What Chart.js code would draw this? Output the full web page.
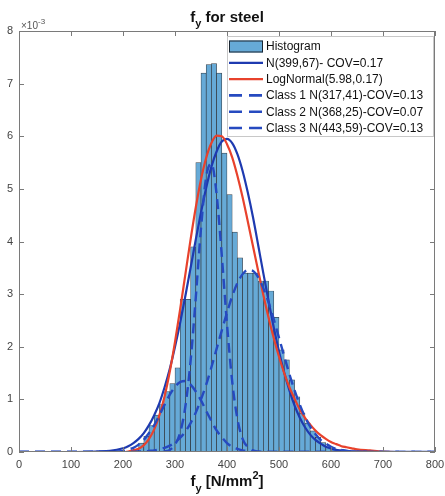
<!DOCTYPE html>
<html>
<head>
<meta charset="utf-8">
<script src="https://cdn.jsdelivr.net/npm/chart.js@4.4.1/dist/chart.umd.min.js"></script>
<style>
  html, body { margin: 0; padding: 0; background: #fff; overflow: hidden; }
  #wrap { width: 445px; height: 496px; }
  canvas { display: block; }
</style>
</head>
<body>
<div id="wrap"><canvas id="plot"></canvas></div>
<script>
// Histograma (centro de cada clase, densidad en 1e-3)
let binCenters = [225, 235, 245, 255, 265, 275, 285, 295, 305, 315, 325, 335, 345, 355, 365, 375, 385, 395,
  405, 415, 425, 435, 445, 455, 465, 475, 485, 495, 505, 515, 525, 535, 545, 555, 565, 575, 585, 595, 605];
let histDensity = [0.05, 0.17, 0.3, 0.5, 0.7, 0.9, 1.15, 1.3, 1.6, 2.9, 2.9, 3.9, 5.5, 7.2, 7.36, 7.38, 7.2, 5.68,
  4.89, 4.18, 3.69, 3.4, 3.4, 3.4, 3.25, 3.25, 3.06, 2.56, 1.94, 1.75, 1.37, 1.05, 0.74, 0.55, 0.4, 0.28, 0.18, 0.1, 0.05];

// Curvas
let curveX = [0, 50, 100, 150, 175,
  200, 210, 220, 230, 240, 250, 260, 270, 280, 290,
  300, 310, 320, 330, 340, 350, 360, 370, 380, 390,
  400, 410, 420, 430, 440, 450, 460, 470, 480, 490,
  500, 510, 520, 530, 540, 550, 560, 570, 580, 590,
  600, 610, 620, 630, 640, 650, 675, 700, 750, 800];
let normalFit = [0, 0, 0, 0.01, 0.02,
  0.07, 0.11, 0.17, 0.25, 0.36, 0.51, 0.70, 0.93, 1.23, 1.58,
  2.00, 2.46, 2.97, 3.50, 4.04, 4.55, 5.02, 5.42, 5.71, 5.90,
  5.95, 5.87, 5.66, 5.34, 4.93, 4.46, 3.93, 3.39, 2.87, 2.36,
  1.91, 1.51, 1.17, 0.88, 0.65, 0.47, 0.33, 0.23, 0.16, 0.10,
  0.07, 0.04, 0.03, 0.02, 0.01, 0.01, 0, 0, 0, 0];
let logNormalFit = [0, 0, 0, 0, 0,
  0.00, 0.01, 0.03, 0.06, 0.13, 0.25, 0.43, 0.70, 1.06, 1.53,
  2.09, 2.72, 3.38, 4.04, 4.65, 5.18, 5.59, 5.87, 6.01, 6.00,
  5.85, 5.60, 5.25, 4.84, 4.38, 3.91, 3.44, 2.98, 2.55, 2.16,
  1.81, 1.50, 1.23, 1.01, 0.81, 0.65, 0.52, 0.41, 0.32, 0.25,
  0.19, 0.15, 0.11, 0.09, 0.07, 0.05, 0.03, 0.01, 0, 0];
let class1 = [0, 0, 0, 0, 0,
  0.02, 0.05, 0.08, 0.14, 0.23, 0.36, 0.51, 0.70, 0.90, 1.09,
  1.24, 1.33, 1.35, 1.28, 1.15, 0.98, 0.78, 0.59, 0.41, 0.28,
  0.17, 0.10, 0.06, 0.03, 0.02, 0.01, 0, 0, 0, 0,
  0, 0, 0, 0, 0, 0, 0, 0, 0, 0,
  0, 0, 0, 0, 0, 0, 0, 0, 0, 0];
let class2 = [0, 0, 0, 0, 0,
  0, 0, 0, 0, 0, 0, 0, 0, 0.01, 0.04,
  0.14, 0.37, 0.87, 1.73, 2.94, 4.25, 5.23, 5.48, 4.90, 3.73,
  2.43, 1.34, 0.63, 0.25, 0.09, 0.03, 0.01, 0, 0, 0,
  0, 0, 0, 0, 0, 0, 0, 0, 0, 0,
  0, 0, 0, 0, 0, 0, 0, 0, 0, 0];
let class3 = [0, 0, 0, 0, 0,
  0, 0, 0, 0.01, 0.01, 0.02, 0.03, 0.05, 0.08, 0.12,
  0.18, 0.27, 0.39, 0.55, 0.75, 1.00, 1.28, 1.61, 1.96, 2.31,
  2.65, 2.96, 3.21, 3.38, 3.46, 3.44, 3.32, 3.11, 2.84, 2.52,
  2.17, 1.82, 1.48, 1.17, 0.90, 0.67, 0.48, 0.34, 0.23, 0.16,
  0.10, 0.06, 0.04, 0.02, 0.01, 0.01, 0, 0, 0, 0];

let xTicks = [0, 100, 200, 300, 400, 500, 600, 700, 800];
let yTicks = [0, 1, 2, 3, 4, 5, 6, 7, 8];
let legendLabels = ['Histogram', 'N(399,67)- COV=0.17', 'LogNormal(5.98,0.17)',
  'Class 1 N(317,41)-COV=0.13', 'Class 2 N(368,25)-COV=0.07', 'Class 3 N(443,59)-COV=0.13'];

let histFill = 'rgb(102,170,215)';
let blueSolid = 'rgb(30,58,176)';
let redSolid = 'rgb(232,66,44)';
let blueDash = 'rgb(38,74,192)';
let dashPattern = [10, 6];

let toPoints = (xs, ys) => xs.map((x, i) => ({x: x, y: ys[i]}));

let lineSet = (label, ys, color, dashed, order) => ({
  type: 'line',
  label: label,
  data: toPoints(curveX, ys),
  borderColor: color,
  borderWidth: dashed ? 2.4 : 2.2,
  borderDash: dashed ? dashPattern : [],
  pointRadius: 0,
  cubicInterpolationMode: 'monotone',
  fill: false,
  order: order
});

// Texto con subindices / superindices
let drawRich = (ctx, parts, cx, baseline) => {
  let total = 0;
  parts.forEach(p => {
    ctx.font = 'bold ' + p.size + 'px "Liberation Sans", Arial, sans-serif';
    p.w = ctx.measureText(p.t).width;
    total += p.w;
  });
  let x = cx - total / 2;
  ctx.textAlign = 'left';
  ctx.textBaseline = 'alphabetic';
  parts.forEach(p => {
    ctx.font = 'bold ' + p.size + 'px "Liberation Sans", Arial, sans-serif';
    ctx.fillText(p.t, x, baseline + (p.dy || 0));
    x += p.w;
  });
};

let decorPlugin = {
  id: 'decor',
  afterDraw: (chart) => {
    let ctx = chart.ctx;
    let area = chart.chartArea;
    let xs = chart.scales.x;
    let ys = chart.scales.y;
    ctx.save();

    // Marco y ticks hacia adentro
    ctx.strokeStyle = '#7a7a7a';
    ctx.lineWidth = 1;
    ctx.strokeRect(Math.round(area.left) + 0.5, Math.round(area.top) + 0.5,
      Math.round(area.right - area.left) - 1, Math.round(area.bottom - area.top) - 1);
    ctx.beginPath();
    xTicks.forEach(v => {
      let px = Math.round(xs.getPixelForValue(v)) + 0.5;
      ctx.moveTo(px, area.bottom); ctx.lineTo(px, area.bottom - 5);
      ctx.moveTo(px, area.top); ctx.lineTo(px, area.top + 5);
    });
    yTicks.forEach(v => {
      let py = Math.round(ys.getPixelForValue(v)) + 0.5;
      ctx.moveTo(area.left, py); ctx.lineTo(area.left + 5, py);
      ctx.moveTo(area.right, py); ctx.lineTo(area.right - 5, py);
    });
    ctx.stroke();

    // Exponente del eje y
    ctx.fillStyle = '#555';
    ctx.textAlign = 'left';
    ctx.textBaseline = 'alphabetic';
    ctx.font = '10px "Liberation Sans", Arial, sans-serif';
    ctx.fillText('\u00d710', area.left + 2, area.top - 2);
    let w10 = ctx.measureText('\u00d710').width;
    ctx.font = '8px "Liberation Sans", Arial, sans-serif';
    ctx.fillText('-3', area.left + 2 + w10, area.top - 7);

    // Titulos
    ctx.fillStyle = '#111';
    let cx = (area.left + area.right) / 2;
    drawRich(ctx, [{t: 'f', size: 15}, {t: 'y', size: 11, dy: 5}, {t: ' for steel', size: 15}], cx, 22);
    drawRich(ctx, [{t: 'f', size: 15}, {t: 'y', size: 11, dy: 6}, {t: ' [N/mm', size: 15},
      {t: '2', size: 11, dy: -7}, {t: ']', size: 15}], cx, 486);

    // Leyenda
    let lx = 227, ly = 36, lw = area.right - 1 - lx, lh = 101;
    ctx.fillStyle = '#fff';
    ctx.fillRect(lx, ly, lw, lh);
    ctx.strokeStyle = '#c8c8c8';
    ctx.strokeRect(lx + 0.5, ly + 0.5, lw - 1, lh - 1);
    let rowH = 16.3;
    let sx0 = lx + 2, sx1 = lx + 36;
    legendLabels.forEach((label, i) => {
      let ry = ly + 10.5 + i * rowH;
      if (i === 0) {
        ctx.fillStyle = histFill;
        ctx.fillRect(sx0, ry - 6, sx1 - sx0, 12);
        ctx.strokeStyle = '#1a2530';
        ctx.lineWidth = 1;
        ctx.setLineDash([]);
        ctx.strokeRect(sx0 + 0.5, ry - 5.5, sx1 - sx0 - 1, 11);
      } else {
        let dashed = i >= 3;
        ctx.strokeStyle = i === 1 ? blueSolid : (i === 2 ? redSolid : blueDash);
        ctx.lineWidth = dashed ? 2.6 : 2.2;
        ctx.setLineDash(dashed ? [13, 7] : []);
        ctx.beginPath();
        ctx.moveTo(sx0, ry); ctx.lineTo(sx1, ry);
        ctx.stroke();
        ctx.setLineDash([]);
      }
      ctx.fillStyle = '#111';
      ctx.font = '12px "Liberation Sans", Arial, sans-serif';
      ctx.textAlign = 'left';
      ctx.textBaseline = 'middle';
      ctx.fillText(label, sx1 + 3, ry + 0.5);
    });
    ctx.restore();
  }
};

let crearGrafico = () => {
  let plotRef = document.getElementById('plot');
  let config = {
    type: 'bar',
    data: {
      datasets: [
        {
          type: 'bar',
          label: legendLabels[0],
          data: toPoints(binCenters, histDensity),
          backgroundColor: histFill,
          borderColor: 'rgba(25,35,45,0.85)',
          borderWidth: 0.7,
          barPercentage: 1,
          categoryPercentage: 1,
          order: 10
        },
        lineSet(legendLabels[1], normalFit, blueSolid, false, 5),
        lineSet(legendLabels[2], logNormalFit, redSolid, false, 4),
        lineSet(legendLabels[3], class1, blueDash, true, 3),
        lineSet(legendLabels[4], class2, blueDash, true, 2),
        lineSet(legendLabels[5], class3, blueDash, true, 1)
      ]
    },
    options: {
      responsive: true,
      maintainAspectRatio: false,
      animation: false,
      devicePixelRatio: 1,
      layout: { autoPadding: false, padding: { top: 31, right: 10, bottom: 0, left: 0 } },
      plugins: {
        legend: { display: false },
        title: { display: false },
        tooltip: { enabled: false }
      },
      scales: {
        x: {
          type: 'linear',
          min: 0,
          max: 800,
          offset: false,
          afterBuildTicks: s => { s.ticks = xTicks.map(v => ({value: v})); },
          afterFit: s => { s.height = 44; s.paddingLeft = 0; s.paddingRight = 0; },
          grid: { display: false, drawTicks: false, offset: false },
          border: { display: false },
          ticks: {
            padding: 6,
            maxRotation: 0,
            color: '#444',
            font: { family: '"Liberation Sans", Arial, sans-serif', size: 11 }
          }
        },
        y: {
          type: 'linear',
          min: 0,
          max: 8,
          afterBuildTicks: s => { s.ticks = yTicks.map(v => ({value: v})); },
          afterFit: s => { s.width = 19; s.paddingTop = 0; s.paddingBottom = 0; },
          grid: { display: false, drawTicks: false },
          border: { display: false },
          ticks: {
            padding: 6,
            color: '#444',
            font: { family: '"Liberation Sans", Arial, sans-serif', size: 11 }
          }
        }
      }
    },
    plugins: [decorPlugin]
  };
  let chart = new Chart(plotRef, config);
};

(function(){
  crearGrafico();
})();
</script>
</body>
</html>
